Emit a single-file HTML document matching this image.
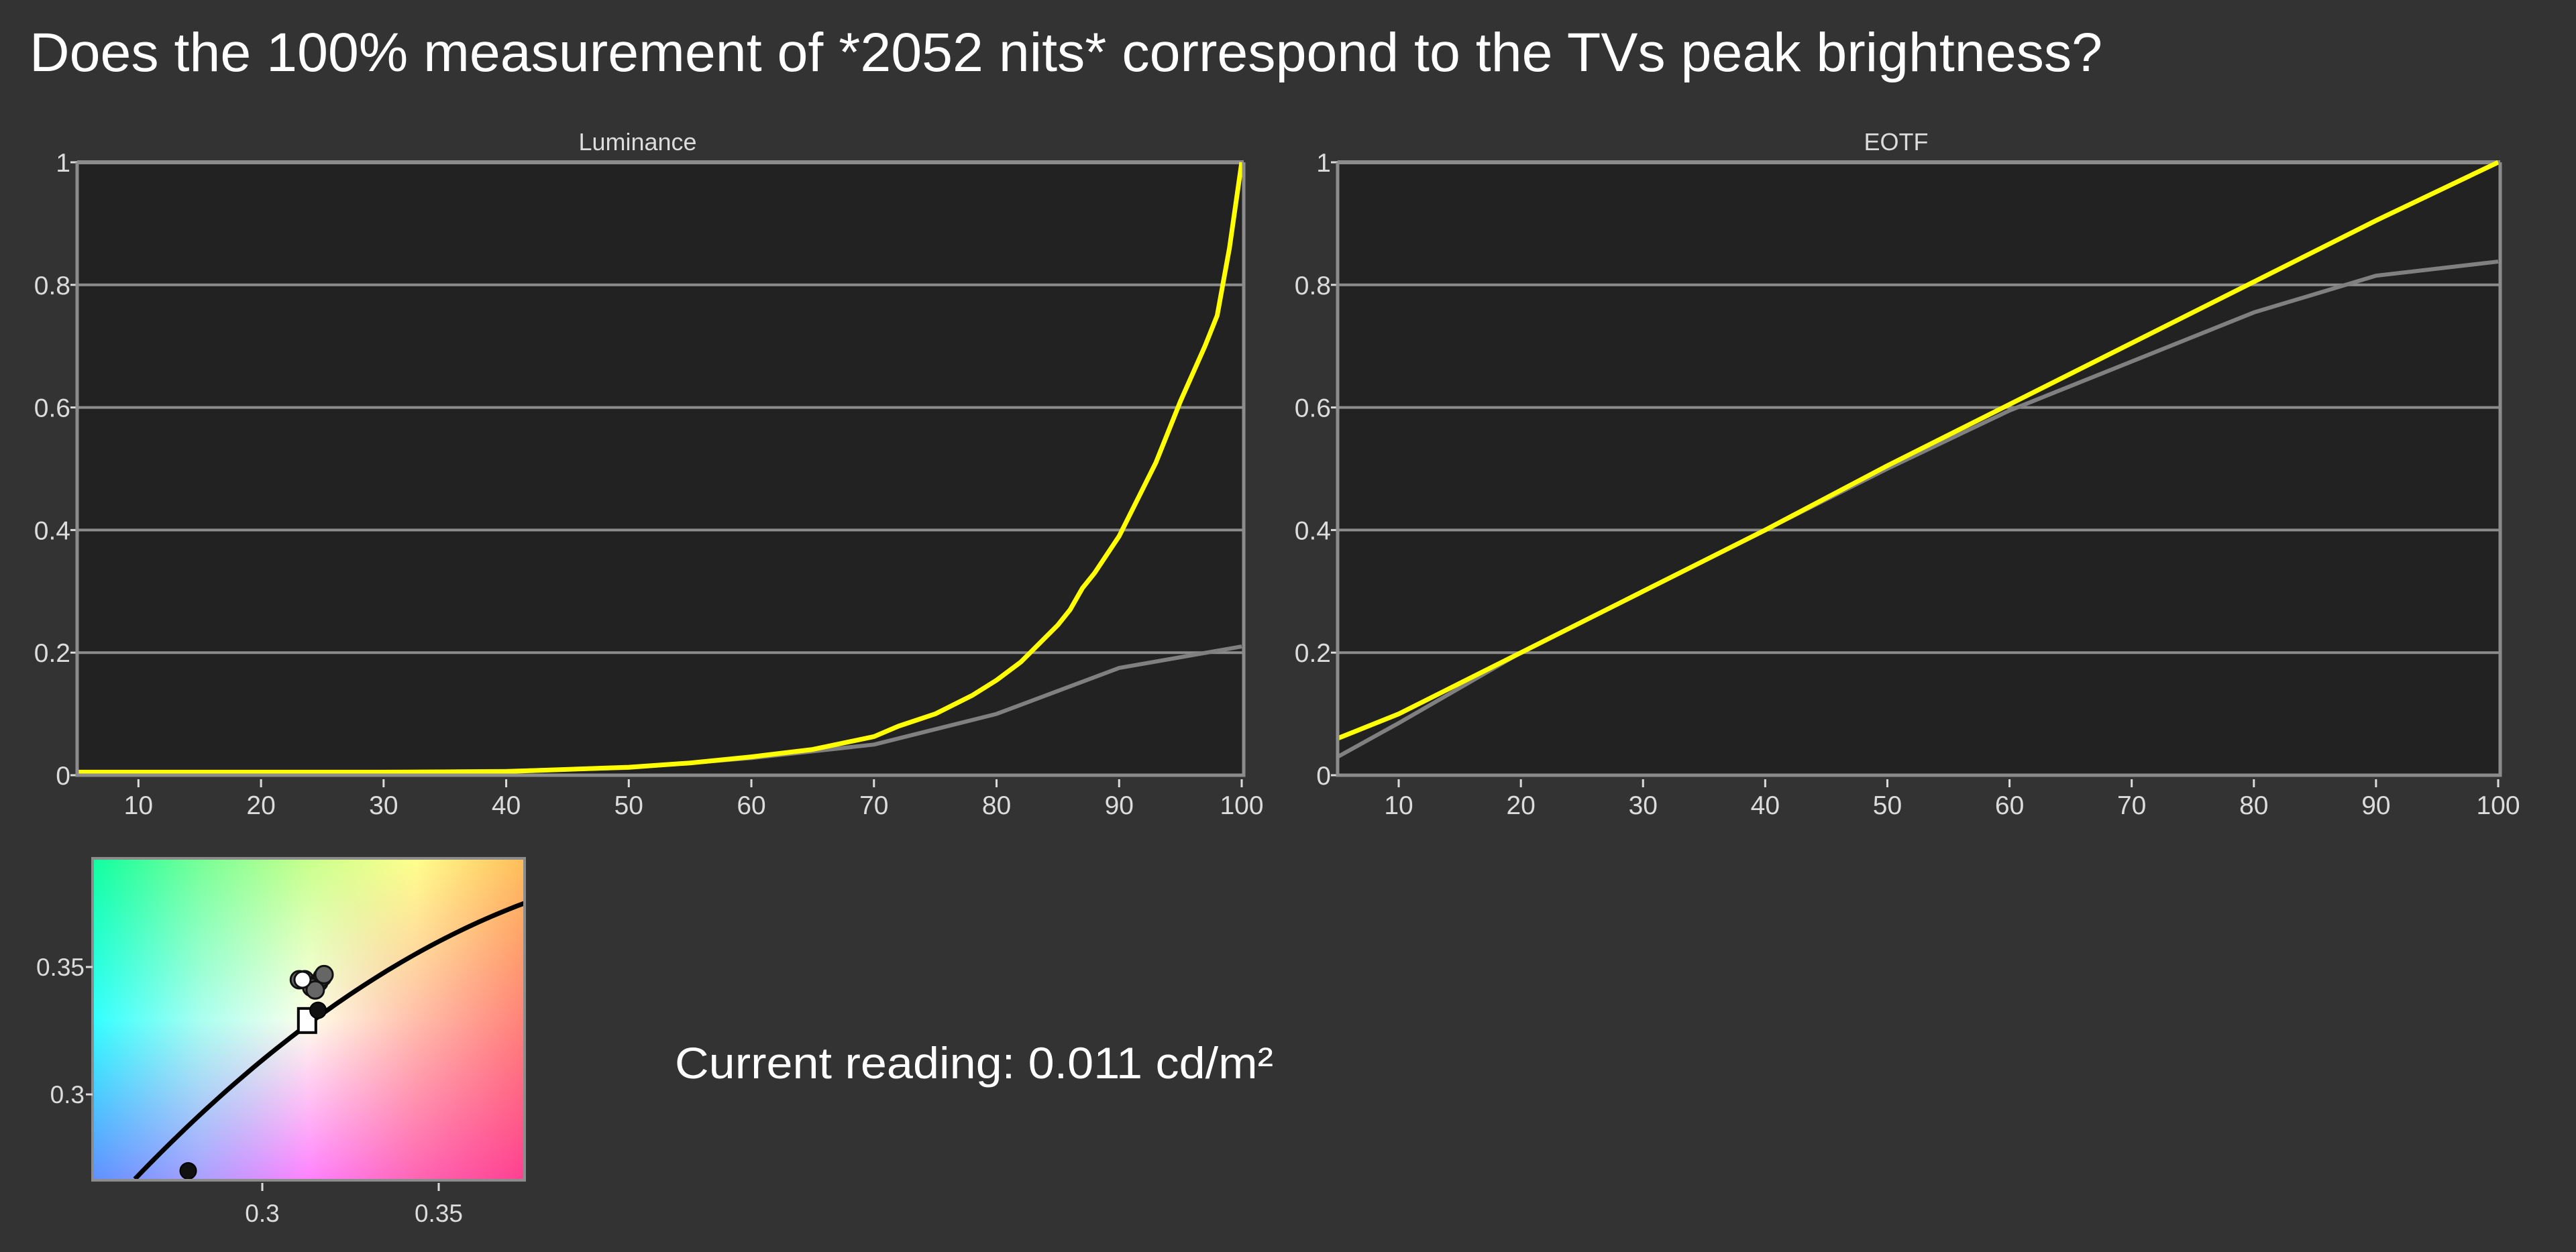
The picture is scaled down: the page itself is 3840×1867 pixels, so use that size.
<!DOCTYPE html>
<html><head><meta charset="utf-8"><style>
html,body{margin:0;padding:0;background:#333333;width:3840px;height:1867px;overflow:hidden}
#gam{position:absolute;left:138px;top:1280px;width:644px;height:480px}
svg{position:absolute;left:0;top:0}
text{font-family:"Liberation Sans",sans-serif;fill:#dcdcdc}
</style></head><body>
<canvas id="gam" width="644" height="480"></canvas>
<svg id="s" width="3840" height="1867">
<text x="44" y="106" font-size="82" textLength="3090" lengthAdjust="spacingAndGlyphs" style="fill:#fff">Does the 100% measurement of *2052 nits* correspond to the TVs peak brightness?</text>
<text x="1006" y="1608" font-size="66" textLength="892" lengthAdjust="spacingAndGlyphs" style="fill:#fff">Current reading: 0.011 cd/m²</text>
</svg>
<script>
// Luminance chart data
const lumX = [5,10,20,30,40,50,55,60,65,70,72,75,78,80,82,85,86,87,88,90,92,93,95,97,98,99,100];
const lumMeasured = [0.005,0.005,0.005,0.005,0.006,0.013,0.02,0.03,0.042,0.063,0.08,0.1,0.13,0.155,0.185,0.245,0.27,0.305,0.33,0.39,0.47,0.51,0.61,0.70,0.75,0.86,1.0];
const lumRefX = [5,10,20,30,40,50,60,70,80,90,100];
const lumTarget = [0.004,0.004,0.004,0.005,0.007,0.012,0.028,0.05,0.1,0.175,0.21];
// EOTF chart data
const eotfX = [5,10,20,30,40,50,60,70,80,90,100];
const eotfMeasured = [0.06,0.10,0.20,0.30,0.40,0.505,0.605,0.705,0.805,0.905,1.0];
const eotfTarget = [0.03,0.085,0.20,0.30,0.40,0.50,0.595,0.675,0.755,0.815,0.838];
const xTicks = [10,20,30,40,50,60,70,80,90,100];
const yTicks = [0,0.2,0.4,0.6,0.8,1];
const yTickLabels = ["0","0.2","0.4","0.6","0.8","1"];
// Chromaticity data
const cieTicksX = [0.3,0.35];
const cieTicksY = [0.3,0.35];
const locusX = [0.2639,0.3141,0.3742];
const locusY = [0.2668,0.3287,0.3750];
const greyPointsX = [0.3105,0.3120,0.3160,0.3170,0.3175,0.3140,0.3150];
const greyPointsY = [0.3450,0.3450,0.3440,0.3460,0.3470,0.3420,0.3410];
const whitePoint = [0.3114,0.3450];
const blackPoints = [[0.3158,0.3330],[0.2790,0.2700]];
const targetPoint = [0.3127,0.3290];

const NS="http://www.w3.org/2000/svg", S=document.getElementById('s');
function mk(t,a,p){const e=document.createElementNS(NS,t);for(const k in a)e.setAttribute(k,a[k]);(p||S).appendChild(e);return e;}

function chart(name,title,L,R,T,B,mx,my,rx,ry){
  const sx=v=>L+(v-5)/(95)*(R-3-L), sy=v=>B-v*(B-T);
  const g=mk('g',{});
  
  
  const bg=mk('rect',{x:L,y:T,width:R-L,height:B-T,fill:'#222222'},g);
  
  
  const tt=mk('text',{x:(L+R)/2-34,y:T-18,'font-size':36,'text-anchor':'middle'},g);tt.textContent=title;
  
  
  yTicks.forEach((v,i)=>{
    const y=sy(v);
    const gl=mk('line',{x1:L,x2:R,y1:y,y2:y,stroke:'#8c8c8c','stroke-width':i==5?6:4},g);
    
    
    mk('line',{x1:L-10,x2:L,y1:y,y2:y,stroke:'#dcdcdc','stroke-width':3},g);
    const t=mk('text',{x:L-10,y:y+14,'font-size':39,'text-anchor':'end'},g);t.textContent=yTickLabels[i];
    
    
  });
  xTicks.forEach(v=>{
    const x=sx(v);
    mk('line',{x1:x,x2:x,y1:B+6,y2:B+18,stroke:'#dcdcdc','stroke-width':3},g);
    const t=mk('text',{x:x,y:B+58,'font-size':39,'text-anchor':'middle'},g);t.textContent=v;
    
    
  });
  const tp=mk('polyline',{points:rx.map((v,i)=>sx(v)+','+sy(ry[i])).join(' '),fill:'none',stroke:'#808080','stroke-width':6,'stroke-linejoin':'round'},g);
  
  
  const mp=mk('polyline',{points:mx.map((v,i)=>sx(v)+','+sy(my[i])).join(' '),fill:'none',stroke:'#ffff00','stroke-width':7,'stroke-linejoin':'round'},g);
  
  
  const fr=mk('path',{d:`M${L},${T}V${B}H${R}V${T}`,fill:'none',stroke:'#8c8c8c','stroke-width':5},g);
  
  
}
chart('luminance','Luminance',115,1854,242,1156,lumX,lumMeasured,lumRefX,lumTarget);
chart('eotf','EOTF',1994,3727,242,1156,eotfX,eotfMeasured,eotfX,eotfTarget);

// chromaticity
const cL=138,cR=782,cT=1280,cB=1760;
const cx=v=>391+(v-0.3)/0.05*263, cy=v=>1442-(v-0.35)/0.05*190;
(function(){
 const c=document.getElementById('gam'),ctx=c.getContext('2d'),W=644,H=480;
 const grid=[
  [[16,255,160],[120,255,150],[200,255,140],[255,255,140],[255,190,90]],
  [[50,255,255],[170,255,240],[255,255,235],[255,190,170],[255,130,120]],
  [[96,144,255],[170,160,255],[255,130,255],[255,100,180],[255,64,144]]];
 const img=ctx.createImageData(W,H);
 for(let y=0;y<H;y++)for(let x=0;x<W;x++){
  const fx=x/(W-1)*4,fy=y/(H-1)*2;const i0=Math.min(3,Math.floor(fx)),j0=Math.min(1,Math.floor(fy));const u=fx-i0,v=fy-j0;
  const p=(y*W+x)*4;
  for(let k=0;k<3;k++){
   const a=grid[j0][i0][k]*(1-u)+grid[j0][i0+1][k]*u,b=grid[j0+1][i0][k]*(1-u)+grid[j0+1][i0+1][k]*u;
   img.data[p+k]=a*(1-v)+b*v;}
  img.data[p+3]=255;}
 ctx.putImageData(img,0,0);
})();
const cg=mk('g',{});


const cp=mk('clipPath',{id:'cc'},cg);mk('rect',{x:cL,y:cT,width:cR-cL,height:cB-cT},cp);
// smooth locus: quadratic (Lagrange) through the locus points, sampled in pixel space
const P=locusX.map((v,i)=>[cx(v),cy(locusY[i])]);
function lag(x){let s=0;for(let i=0;i<P.length;i++){let t=P[i][1];for(let j=0;j<P.length;j++)if(j!=i)t*=(x-P[j][0])/(P[i][0]-P[j][0]);s+=t;}return s;}
let d='';
const x0=P[0][0],x1=P[P.length-1][0];
for(let k=0;k<=60;k++){const x=x0+(x1-x0)*k/60;d+=(k?' L':'M')+x+','+lag(x);}
const lc=mk('path',{d:d,fill:'none',stroke:'#000','stroke-width':7,'clip-path':'url(#cc)'},cg);


greyPointsX.forEach((v,i)=>{
  const c=mk('circle',{cx:cx(v),cy:cy(greyPointsY[i]),r:13,fill:'#666',stroke:'#111','stroke-width':3},cg);
  
  
});
const wp=mk('circle',{cx:cx(whitePoint[0]),cy:cy(whitePoint[1]),r:12,fill:'#fff',stroke:'#111','stroke-width':3},cg);


const tg=mk('rect',{x:cx(targetPoint[0])-13,y:cy(targetPoint[1])-18,width:26,height:36,fill:'#fff',stroke:'#000','stroke-width':4},cg);


blackPoints.forEach(p=>{
  const c=mk('circle',{cx:cx(p[0]),cy:cy(p[1]),r:12,fill:'#111',stroke:'#000','stroke-width':2},cg);
  
  
});
const cf=mk('rect',{x:cL,y:cT,width:cR-cL,height:cB-cT,fill:'none',stroke:'#8c8c8c','stroke-width':4},cg);


cieTicksX.forEach(v=>{
  mk('line',{x1:cx(v),x2:cx(v),y1:cB+4,y2:cB+16,stroke:'#dcdcdc','stroke-width':3},cg);
  const t=mk('text',{x:cx(v),y:1822,'font-size':37,'text-anchor':'middle'},cg);t.textContent=String(v);
  
  
});
cieTicksY.forEach(v=>{
  mk('line',{x1:cL-10,x2:cL,y1:cy(v),y2:cy(v),stroke:'#dcdcdc','stroke-width':3},cg);
  const t=mk('text',{x:cL-12,y:cy(v)+13,'font-size':37,'text-anchor':'end'},cg);t.textContent=String(v);
  
  
});
</script>
</body></html>
